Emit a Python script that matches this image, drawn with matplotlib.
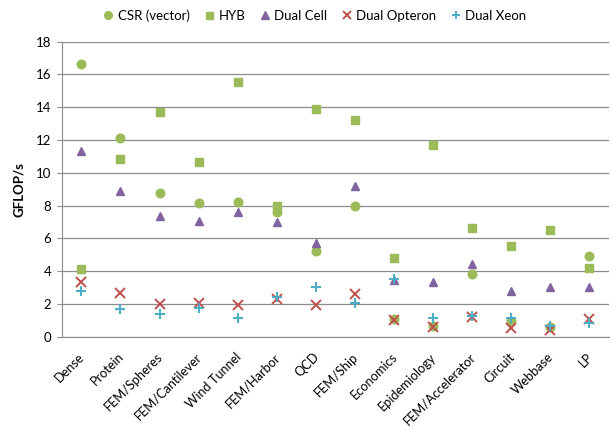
import matplotlib
matplotlib.use('Agg')
import matplotlib.pyplot as plt
import matplotlib.transforms as mtransforms
import numpy as np

plt.rcParams['font.family'] = ['Lato', 'DejaVu Sans']

# Matrix categories
categories = ['Dense', 'Protein', 'FEM/Spheres', 'FEM/Cantilever', 'Wind Tunnel',
              'FEM/Harbor', 'QCD', 'FEM/Ship', 'Economics', 'Epidemiology',
              'FEM/Accelerator', 'Circuit', 'Webbase', 'LP']

# GFLOP/s per platform
csr_vector = [16.65, 12.1, 8.77, 8.18, 8.24, 7.63, 5.21, 7.97, 1.05, 0.65, 3.83, 0.98, 0.57, 4.94]
hyb = [4.15, 10.86, 13.71, 10.68, 15.54, 8.0, 13.89, 13.2, 4.82, 11.72, 6.65, 5.53, 6.51, 4.21]
dual_cell = [11.33, 8.87, 7.38, 7.08, 7.63, 7.02, 5.74, 9.19, 3.46, 3.32, 4.42, 2.79, 3.05, 3.05]
dual_opteron = [3.32, 2.65, 2.0, 2.04, 1.93, 2.3, 1.93, 2.59, 1.0, 0.62, 1.18, 0.51, 0.42, 1.06]
dual_xeon = [2.79, 1.69, 1.38, 1.73, 1.16, 2.42, 3.05, 2.07, 3.5, 1.12, 1.25, 1.12, 0.65, 0.86]

fig = plt.figure(figsize=(6.12, 4.3), dpi=100)
ax = fig.add_axes([0.101, 0.217, 0.894, 0.686])

x = np.arange(len(categories))
ax.plot(x, csr_vector, 'o', color='#9BBB59', ms=6.2, mec='#9BBB59', label='CSR (vector)')
ax.plot(x, hyb, 's', color='#9BBB59', ms=5.6, mec='#9BBB59', label='HYB')
ax.plot(x, dual_cell, '^', color='#8064A2', ms=6.2, mec='#8064A2', label='Dual Cell')
ax.plot(x, dual_opteron, 'x', color='#C0504D', ms=6.5, mew=1.4, label='Dual Opteron')
ax.plot(x, dual_xeon, '+', color='#4BACC6', ms=7, mew=1.4, label='Dual Xeon')

ax.set_xlim(-0.5, len(categories) - 0.5)
ax.set_ylim(0, 18)
ax.set_yticks(np.arange(0, 19, 2))
ax.yaxis.grid(True, color='#8C8C8C', lw=0.9)
ax.set_axisbelow(True)
for s in ['top', 'right']:
    ax.spines[s].set_visible(False)
for s in ['left', 'bottom']:
    ax.spines[s].set_color('#8C8C8C')
ax.tick_params(axis='y', length=3.5, color='#8C8C8C', labelsize=9.5, pad=4)
ax.tick_params(axis='x', length=0, labelsize=9.2, pad=10)
ax.set_xticks(x)
ax.set_xticklabels(categories, rotation=45, ha='right', rotation_mode='anchor')
# nudge the slanted labels a little to the left
offset = mtransforms.ScaledTranslation(-3 / 100, 0, fig.dpi_scale_trans)
for lab in ax.get_xticklabels():
    lab.set_transform(lab.get_transform() + offset)
ax.set_ylabel('GFLOP/s', fontweight='bold', fontsize=9.5, labelpad=8)

ax.legend(loc='upper center', bbox_to_anchor=(0.46, 1.15), ncol=5, frameon=False,
          fontsize=9.5, handletextpad=0.1, columnspacing=0.9, handlelength=1.2,
          markerscale=0.9)

fig.savefig('out.png', dpi=100)
